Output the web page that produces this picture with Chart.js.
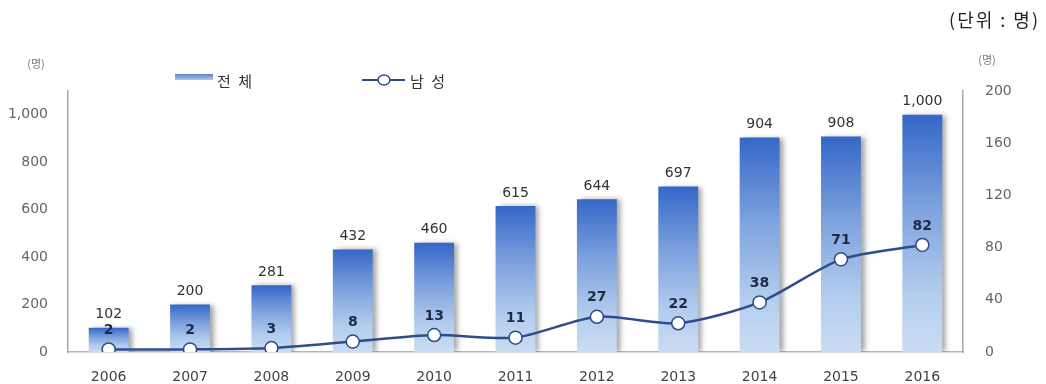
<!DOCTYPE html>
<html>
<head>
<meta charset="utf-8">
<script src="https://cdn.jsdelivr.net/npm/chart.js@4/dist/chart.umd.min.js"></script>
<style>
  html, body { margin: 0; padding: 0; background: #fff; }
  #wrap { width: 1046px; height: 384px; }
</style>
</head>
<body>
<div id="wrap"><canvas id="myChart" width="1046" height="384"></canvas></div>
<script>
var years = ['2006', '2007', '2008', '2009', '2010', '2011', '2012', '2013', '2014', '2015', '2016'];
var totalCount = [102, 200, 281, 432, 460, 615, 644, 697, 904, 908, 1000];
var maleCount = [2, 2, 3, 8, 13, 11, 27, 22, 38, 71, 82];
var leftTicks = [0, 200, 400, 600, 800, 1000];
var rightTicks = [0, 40, 80, 120, 160, 200];

var numFont = '"DejaVu Sans", "Noto Sans", sans-serif';
var korFont = '"Noto Sans CJK KR", "Noto Sans", sans-serif';

// gradient for each bar, dark on top and light at the base
function barFill(context) {
    var chart = context.chart;
    var y = chart.scales.y;
    if (!y || context.raw == null) return '#6f95d6';
    var top = y.getPixelForValue(context.raw);
    var bottom = y.getPixelForValue(0);
    if (!isFinite(top) || !isFinite(bottom) || top === bottom) return '#6f95d6';
    var g = chart.ctx.createLinearGradient(0, top, 0, bottom);
    g.addColorStop(0, '#3467c8');
    g.addColorStop(0.4, '#7fa3de');
    g.addColorStop(0.75, '#b3cdee');
    g.addColorStop(1, '#cadcf2');
    return g;
}

var extras = {
    id: 'extras',
    beforeDatasetDraw: function(chart, args) {
        if (args.index === 0) {
            var ctx = chart.ctx;
            ctx.save();
            ctx.shadowColor = 'rgba(0,0,0,0.35)';
            ctx.shadowOffsetX = 4;
            ctx.shadowOffsetY = 0;
            ctx.shadowBlur = 5;
        }
    },
    afterDatasetDraw: function(chart, args) {
        if (args.index === 0) chart.ctx.restore();
    },
    afterDatasetsDraw: function(chart) {
        var ctx = chart.ctx;
        ctx.save();
        ctx.textAlign = 'center';
        ctx.textBaseline = 'bottom';

        // value labels over the bars
        ctx.fillStyle = '#333';
        ctx.font = '14px ' + numFont;
        chart.getDatasetMeta(0).data.forEach(function(bar, i) {
            ctx.fillText(totalCount[i].toLocaleString('en-US'), bar.x, bar.y - 6);
        });

        // value labels over the line points
        ctx.fillStyle = '#1e2a44';
        ctx.font = 'bold 14px ' + numFont;
        chart.getDatasetMeta(1).data.forEach(function(pt, i) {
            ctx.fillText(String(maleCount[i]), pt.x, pt.y - 12);
        });

        // unit texts
        ctx.textBaseline = 'middle';
        ctx.fillStyle = '#222';
        ctx.font = '18px ' + korFont;
        ctx.textAlign = 'right';
        ctx.letterSpacing = '2px';
        ctx.fillText('(단위 : 명)', 1040, 20);
        ctx.letterSpacing = '0px';

        ctx.fillStyle = '#777';
        ctx.font = '11px ' + korFont;
        ctx.textAlign = 'center';
        ctx.fillText('(명)', 36, 64);
        ctx.fillText('(명)', 987, 60);

        // legend
        var lg = ctx.createLinearGradient(0, 74, 0, 81);
        lg.addColorStop(0, '#5d86cf');
        lg.addColorStop(1, '#b9d0ee');
        ctx.fillStyle = lg;
        ctx.fillRect(175, 74, 38, 6);

        ctx.strokeStyle = '#2c4a86';
        ctx.lineWidth = 2;
        ctx.beginPath();
        ctx.moveTo(362, 80);
        ctx.lineTo(405, 80);
        ctx.stroke();
        ctx.beginPath();
        ctx.ellipse(384, 80, 6, 5, 0, 0, Math.PI * 2);
        ctx.fillStyle = '#fff';
        ctx.fill();
        ctx.lineWidth = 1.5;
        ctx.stroke();

        ctx.fillStyle = '#333';
        ctx.font = '15px ' + korFont;
        ctx.textAlign = 'left';
        ctx.letterSpacing = '2px';
        ctx.fillText('전 체', 217, 81);
        ctx.fillText('남 성', 410, 81);
        ctx.restore();
    }
};

function setGrafico() {
    var ctx = document.getElementById('myChart').getContext('2d');
    new Chart(ctx, {
        data: {
            labels: years,
            datasets: [{
                type: 'bar',
                label: '전 체',
                data: totalCount,
                yAxisID: 'y',
                backgroundColor: barFill,
                barPercentage: 0.7,
                categoryPercentage: 0.7,
                order: 2
            }, {
                type: 'line',
                label: '남 성',
                data: maleCount,
                yAxisID: 'y1',
                borderColor: '#2f4d8c',
                borderWidth: 2.5,
                tension: 0.25,
                pointRadius: 6.5,
                pointBorderWidth: 1.5,
                pointBackgroundColor: '#fff',
                pointBorderColor: '#2c4a86',
                order: 1
            }]
        },
        options: {
            responsive: false,
            animation: false,
            layout: { padding: { top: 91, left: 0, right: 0, bottom: 0 } },
            plugins: {
                legend: { display: false },
                tooltip: { enabled: false }
            },
            scales: {
                x: {
                    grid: { display: false, drawTicks: false },
                    border: { display: true, color: '#b5b5b5', width: 1.5 },
                    ticks: { color: '#444', padding: 17, font: { size: 14, family: numFont } },
                    afterFit: function(scale) { scale.height = 32; }
                },
                y: {
                    position: 'left',
                    min: 0,
                    max: 1100,
                    afterBuildTicks: function(scale) {
                        scale.ticks = leftTicks.map(function(v) { return { value: v }; });
                    },
                    grid: { display: false, drawTicks: false },
                    border: { display: true, color: '#a8a8a8', width: 1.5 },
                    ticks: { color: '#666', padding: 20, font: { size: 14, family: numFont } },
                    afterFit: function(scale) { scale.width = 68; }
                },
                y1: {
                    position: 'right',
                    min: 0,
                    max: 200,
                    afterBuildTicks: function(scale) {
                        scale.ticks = rightTicks.map(function(v) { return { value: v }; });
                    },
                    grid: { display: false, drawTicks: false },
                    border: { display: true, color: '#a8a8a8', width: 1.5 },
                    ticks: { color: '#666', padding: 22, font: { size: 14, family: numFont } },
                    afterFit: function(scale) { scale.width = 83; }
                }
            }
        },
        plugins: [extras]
    });
}

setGrafico();
</script>
</body>
</html>
